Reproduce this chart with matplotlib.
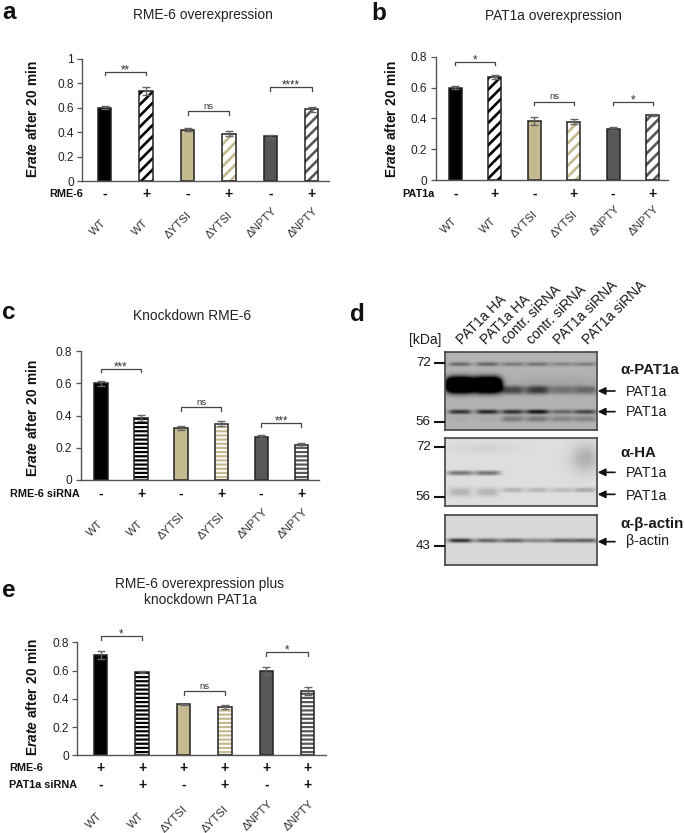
import numpy as np
import matplotlib
matplotlib.use("Agg")
import matplotlib.pyplot as plt
from matplotlib.transforms import ScaledTranslation

plt.rcParams['font.family'] = ['Liberation Sans', 'DejaVu Sans']
plt.rcParams['mathtext.fontset'] = 'custom'
plt.rcParams['mathtext.bf'] = 'Liberation Sans:bold'
plt.rcParams['mathtext.bfit'] = 'Liberation Sans:italic:bold'
plt.rcParams['mathtext.rm'] = 'Liberation Sans'
plt.rcParams['hatch.linewidth'] = 1.9

W, H = 685, 833

# ---- data -----
constructs = ['WT', 'WT', 'ΔYTSI', 'ΔYTSI', 'ΔNPTY', 'ΔNPTY']

a_vals = [0.60, 0.735, 0.42, 0.385, 0.365, 0.585]
a_errs = [0.015, 0.03, 0.012, 0.02, 0.012, 0.022]
a_sig = ['**', 'ns', '****']
a_brk = [0.894, 0.572, 0.766]

b_vals = [0.60, 0.67, 0.385, 0.38, 0.335, 0.42]
b_errs = [0.012, 0.012, 0.025, 0.015, 0.012, 0.006]
b_sig = ['*', 'ns', '*']
b_brk = [0.767, 0.509, 0.509]

c_vals = [0.60, 0.385, 0.325, 0.35, 0.27, 0.215]
c_errs = [0.015, 0.02, 0.012, 0.015, 0.008, 0.012]
c_sig = ['***', 'ns', '***']
c_brk = [0.692, 0.452, 0.352]

e_vals = [0.71, 0.59, 0.36, 0.34, 0.595, 0.455]
e_errs = [0.03, 0.005, 0.005, 0.013, 0.028, 0.028]
e_sig = ['*', 'ns', '*']
e_brk = [0.844, 0.455, 0.729]

ticks_a = [0, 0.2, 0.4, 0.6, 0.8, 1]
ticks_b = [0, 0.2, 0.4, 0.6, 0.8]
tick_text_a = ['0', '0.2', '0.4', '0.6', '0.8', '1']
tick_text_b = ['0', '0.2', '0.4', '0.6', '0.8']

pm_single = ['-', '+', '-', '+', '-', '+']
pm_all = ['+', '+', '+', '+', '+', '+']

lanes = ['PAT1a HA', 'PAT1a HA', 'contr. siRNA', 'contr. siRNA', 'PAT1a siRNA', 'PAT1a siRNA']

# blot band strengths per lane
blot1_upper = [0.28, 0.30, 0.22, 0.24, 0.18, 0.20]
blot1_over = [1.7, 1.7, 0, 0, 0, 0]
blot1_main = [0, 0, 0.42, 0.48, 0.26, 0.30]
blot1_lower = [0.50, 0.55, 0.50, 0.62, 0.30, 0.42]
blot1_extra = [0.03, 0.03, 0.22, 0.22, 0.18, 0.18]
blot2_upper = [0.40, 0.40, 0, 0, 0, 0]
blot2_smear = [0.16, 0.16, 0, 0, 0, 0]
blot2_lower = [0, 0, 0.17, 0.15, 0.13, 0.20]
blot3_band = [0.62, 0.42, 0.42, 0.30, 0.42, 0.45]

BLACK, KHAKI, GREY = '#000000', '#C4B98F', '#575757'
bar_colors = [BLACK, KHAKI, GREY]
label_shift = {'WT': (-5, -12), 'ΔYTSI': (-3, -5), 'ΔNPTY': (0, 0)}

fig = plt.figure(figsize=(W / 100, H / 100), dpi=100)
fig.patch.set_facecolor('white')


def px_axes(x0, y0, x1, y1, **kw):
    return fig.add_axes([x0 / W, 1 - y1 / H, (x1 - x0) / W, (y1 - y0) / H], **kw)


ov = fig.add_axes([0, 0, 1, 1], zorder=10)
ov.set_xlim(0, W)
ov.set_ylim(H, 0)
ov.axis('off')
ov.patch.set_visible(False)


def chart(box, vmax, c0, c5, vals, errs, sig, brk, ticks, tlabels, hatch, hatch_lw,
          label_drop, ylabel_x, ylabel_y, pm_rows, title_xy, title):
    xl, ytop, xr, y0 = box
    ax = px_axes(xl, ytop, xr, y0)
    step = (c5 - c0) / 5
    ax.set_xlim((xl - c0) / step, (xr - c0) / step)
    ax.set_ylim(0, vmax)
    ax.patch.set_visible(False)
    x = np.arange(6)
    w = 13.3 / step
    plt.rcParams['hatch.linewidth'] = hatch_lw
    for i in x:
        col = bar_colors[i // 2]
        if i % 2 == 0:
            ax.bar(i, vals[i], width=w, color=col, edgecolor='#222222', linewidth=1.1, zorder=2)
        else:
            ax.bar(i, vals[i], width=w, facecolor='white', edgecolor=col, linewidth=0,
                   hatch=hatch, zorder=2)
            ax.bar(i, vals[i], width=w, facecolor='none', edgecolor='#222222', linewidth=1.1, zorder=3)
    ax.errorbar(x, vals, yerr=errs, fmt='none', ecolor='#666666', elinewidth=1.0,
                capsize=2.6, capthick=1.0, zorder=4)
    for s in ('top', 'right'):
        ax.spines[s].set_visible(False)
    for s in ('left', 'bottom'):
        ax.spines[s].set_color('#555555')
        ax.spines[s].set_linewidth(1.0)
    ax.set_yticks(ticks)
    ax.set_yticklabels(tlabels, fontsize=8.6, color='#222222')
    ax.tick_params(axis='y', length=3.5, width=0.9, color='#555555', pad=2.5)
    ax.set_xticks(x)
    ax.set_xticklabels(constructs, fontsize=8.2, color='#333333', rotation=45,
                       ha='right', va='center', rotation_mode='anchor')
    ax.tick_params(axis='x', length=0, pad=label_drop * 0.72)
    for t, name in zip(ax.get_xticklabels(), constructs):
        sx, sy = label_shift[name]
        off = ScaledTranslation((5 + sx) / 100, sy / 100, fig.dpi_scale_trans)
        t.set_transform(t.get_transform() + off)
    # significance brackets
    for k, (s, h) in enumerate(zip(sig, brk)):
        x1, x2 = 2 * k, 2 * k + 1
        leg = 3.6 * vmax / (y0 - ytop)
        ax.plot([x1, x1, x2, x2], [h - leg, h, h, h - leg], color='#444444', lw=0.9, zorder=5,
                clip_on=False, solid_joinstyle='miter')
        dy = 2.5 if s == 'ns' else -1.5
        fs = 6.8 if s == 'ns' else 8.3
        ax.annotate(s, (k * 2 + 0.5, h), xytext=(0, dy * 0.72), textcoords='offset points',
                    ha='center', va='baseline', fontsize=fs, color='#333333',
                    annotation_clip=False)
    # +/- rows
    for row_y, row_txt, row_x, row_ha, marks in pm_rows:
        ov.text(row_x, row_y, row_txt, fontsize=7.8, fontweight='bold', ha=row_ha, va='center', color='#111111')
        for i, m in enumerate(marks):
            cx = c0 + i * step
            ov.text(cx, row_y, m, fontsize=10, fontweight='bold', ha='center', va='center', color='#111111')
    ov.text(ylabel_x, ylabel_y, r'$\mathbf{E}\mathbfit{rate}$ $\mathbf{after\ 20\ min}$',
            rotation=90, fontsize=9.9, ha='center', va='center', color='#111111')
    ov.text(title_xy[0], title_xy[1], title, fontsize=9.9, ha='center', va='center',
            linespacing=1.25, color='#222222')


chart((82, 58.7, 329, 181), 1, 104.7, 311.7, a_vals, a_errs, a_sig, a_brk, ticks_a, tick_text_a,
      '///', 1.9, 28, 33, 119, [(194, 'RME-6', 83, 'right', pm_single)], (202.7, 15), 'RME-6 overexpression')
chart((435.7, 56.7, 667.7, 180.3), 0.8, 455.3, 652.7, b_vals, b_errs, b_sig, b_brk, ticks_b, tick_text_b,
      '///', 1.9, 27, 391.7, 119, [(193.7, 'PAT1a', 435, 'right', pm_single)], (553, 16), 'PAT1a overexpression')
chart((80.7, 351.3, 319.3, 480), 0.8, 101, 301.3, c_vals, c_errs, c_sig, c_brk, ticks_b, tick_text_b,
      '----', 1.6, 30, 32.7, 418, [(494, 'RME-6 siRNA', 80, 'right', pm_single)], (192, 315.7), 'Knockdown RME-6')
chart((77.3, 642.3, 326, 755.3), 0.8, 100.7, 307.7, e_vals, e_errs, e_sig, e_brk, ticks_b, tick_text_b,
      '----', 1.6, 47, 32.7, 696.7,
      [(767.7, 'RME-6', 9, 'left', pm_all), (785, 'PAT1a siRNA', 9, 'left', pm_single)],
      (200, 592), 'RME-6 overexpression plus\nknockdown PAT1a')

# panel letters
for (lx, ly, s) in [(2, 19, 'a'), (371, 20, 'b'), (2, 319, 'c'), (350, 321, 'd'), (2, 597, 'e')]:
    ov.text(lx, ly, s, fontsize=17.5, fontweight='bold', ha='left', va='baseline', color='#111111')


# ---- western blots -----
lane_centers = np.array([180, 262, 338, 412, 485, 555]) / 3 + 400 - 445.3   # px inside the blot


def blot(box, bg, bands, smears=()):
    x0, y0, x1, y1 = box
    w, h = int(round(x1 - x0)), int(round(y1 - y0))
    yy, xx = np.mgrid[0:h, 0:w]
    img = np.full((h, w), bg, dtype=float)
    for levels, yc, sy, halfw in bands:
        for i, d in enumerate(levels):
            if d:
                prof = np.exp(-np.abs((xx - lane_centers[i]) / halfw) ** 4)
                img -= d * prof * np.exp(-np.abs((yy - yc) / sy) ** 2.4)
    for cx, cy, sx, sy, d in smears:
        img -= d * np.exp(-((xx - cx) / sx) ** 2 - ((yy - cy) / sy) ** 2)
    ax = px_axes(x0, y0, x1, y1)
    ax.imshow(np.clip(img, 0, 1), cmap='gray', vmin=0, vmax=1, aspect='auto', interpolation='bilinear')
    ax.set_xticks([])
    ax.set_yticks([])
    for s in ax.spines.values():
        s.set_color('#444444')
        s.set_linewidth(1.2)


blot((445.3, 352, 597.3, 430), 0.70,
     [(blot1_upper, 12.5, 2.0, 11.5), (blot1_over, 33, 7.5, 14), (blot1_main, 38, 4.2, 12),
      (blot1_lower, 59.5, 2.2, 11.5), (blot1_extra, 66.5, 3.0, 11.5)],
     smears=[(110, 30, 50, 6, 0.05)])
blot((445.3, 438.3, 597.3, 506), 0.87,
     [(blot2_upper, 34.5, 2.4, 13), (blot2_smear, 53.5, 4.5, 11.5), (blot2_lower, 51.5, 2.4, 11.5)],
     smears=[(140, 20, 14, 14, 0.18), (40, 10, 30, 5, 0.04)])
blot((445.3, 515, 597.3, 565), 0.84, [(blot3_band, 25, 2.2, 12.5)])

px = lambda zx: 400 + zx / 3
py = lambda zy: 290 + zy / 3
ink = '#1a1a1a'
ov.text(px(77), py(150), '[kDa]', fontsize=10, ha='center', va='center', color=ink)
for s, zy in [('72', 218), ('56', 395), ('72', 470), ('56', 622), ('43', 767)]:
    ov.text(px(92), py(zy), s, fontsize=9.6, ha='right', va='center', color=ink)
    ov.plot([px(103), px(135)], [py(zy), py(zy)], color='#111111', lw=1.5, solid_capstyle='butt')
for s, zx in zip(lanes, [187, 257, 322, 397, 477, 564]):
    ov.text(px(zx), py(165), s, fontsize=10, rotation=45, ha='left', va='baseline',
            rotation_mode='anchor', color=ink, clip_on=False)
for s, zy in [('α-PAT1a', 240), ('α-HA', 490), ('α-β-actin', 703)]:
    ov.text(px(660), py(zy), s, fontsize=10.8, fontweight='bold', ha='left', va='center', color=ink)
for s, zy in [('PAT1a', 305), ('PAT1a', 367), ('PAT1a', 550), ('PAT1a', 618), ('β-actin', 752)]:
    ov.text(px(677), py(zy), s, fontsize=10.2, ha='left', va='center', color=ink)
for zy in [303, 365, 547, 613, 755]:
    ov.annotate('', xy=(px(593), py(zy)), xytext=(px(645), py(zy)),
                arrowprops=dict(arrowstyle='-|>,head_width=0.22,head_length=0.45', color='#111111',
                                lw=1.2, shrinkA=0, shrinkB=0))

fig.savefig('out.png', dpi=100)
